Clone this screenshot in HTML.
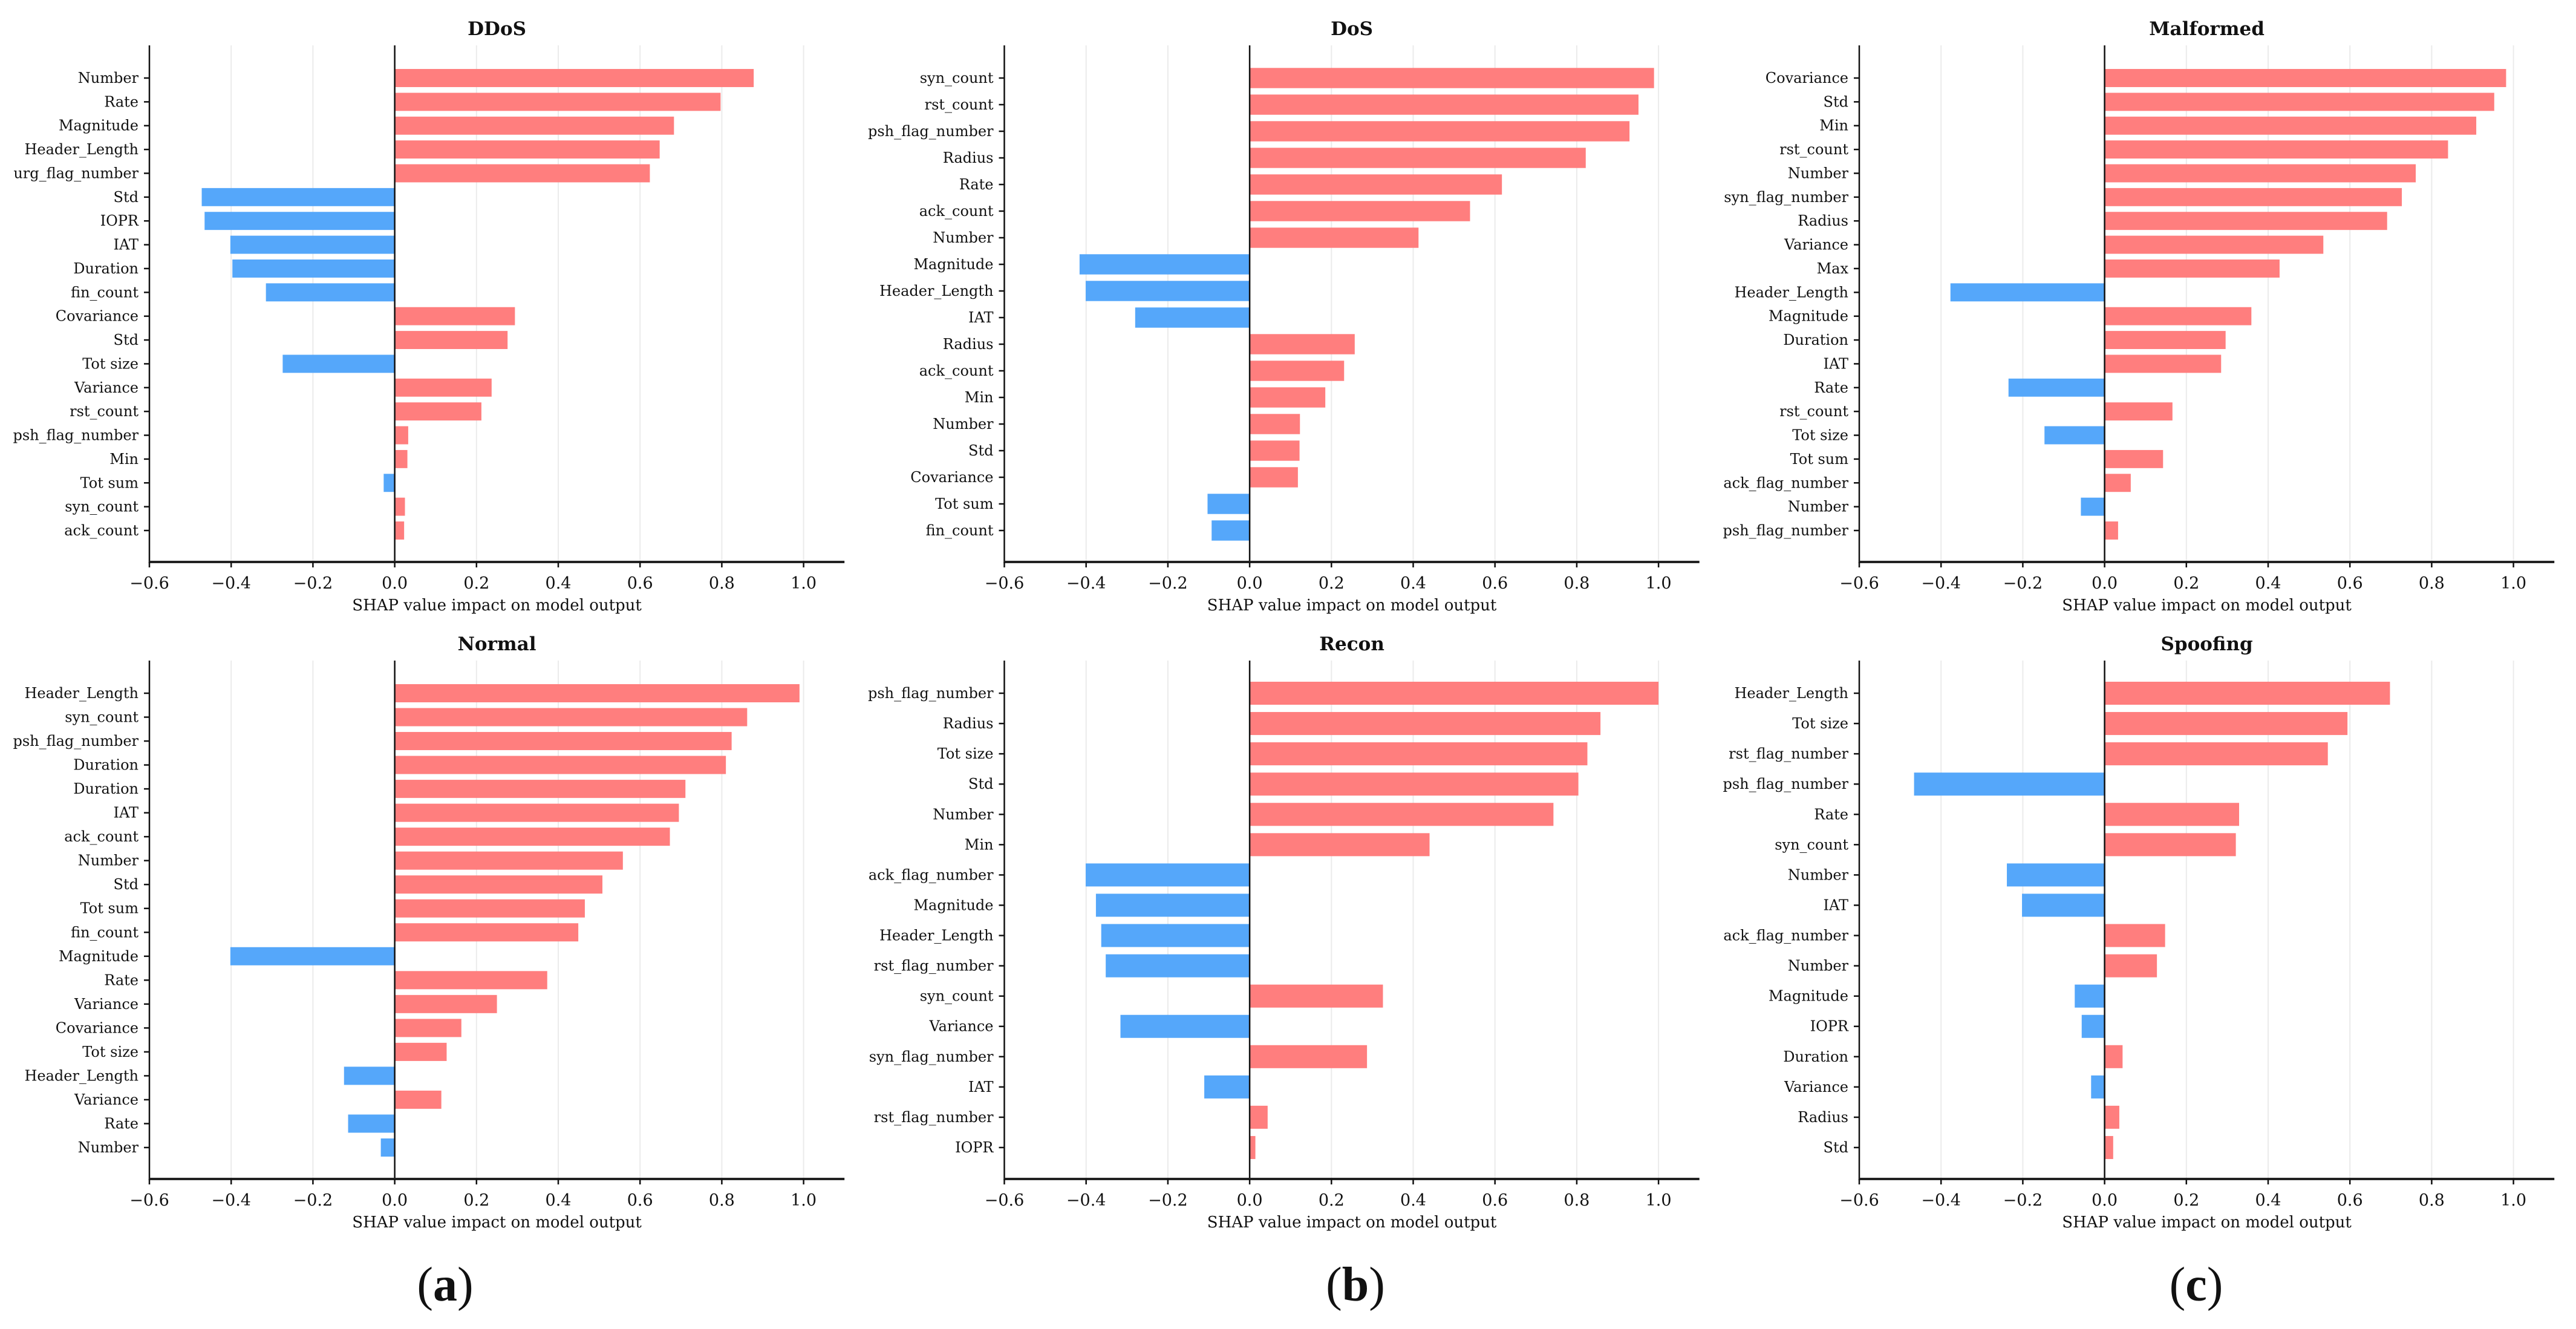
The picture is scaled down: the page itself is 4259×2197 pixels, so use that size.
<!DOCTYPE html>
<html><head><meta charset="utf-8"><style>
html,body{margin:0;padding:0;background:#fff;}
svg{display:block;}
text{font-family:"DejaVu Serif","Liberation Serif",serif;fill:#111;}
</style></head><body>
<svg id="fig" width="4259" height="2197" viewBox="0 0 4259 2197" xmlns="http://www.w3.org/2000/svg"></svg>
<script>
const titles = ["DDoS","DoS","Malformed","Normal","Recon","Spoofing"];
const ddosFeatures = ["Number","Rate","Magnitude","Header_Length","urg_flag_number","Std","IOPR","IAT","Duration","fin_count","Covariance","Std","Tot size","Variance","rst_count","psh_flag_number","Min","Tot sum","syn_count","ack_count"];
const ddosValues = [0.878,0.797,0.683,0.648,0.624,-0.472,-0.465,-0.402,-0.397,-0.315,0.294,0.276,-0.274,0.237,0.212,0.033,0.031,-0.027,0.025,0.023];
const dosFeatures = ["syn_count","rst_count","psh_flag_number","Radius","Rate","ack_count","Number","Magnitude","Header_Length","IAT","Radius","ack_count","Min","Number","Std","Covariance","Tot sum","fin_count"];
const dosValues = [0.989,0.951,0.929,0.822,0.617,0.539,0.413,-0.416,-0.401,-0.280,0.257,0.231,0.185,0.123,0.122,0.118,-0.103,-0.093];
const malFeatures = ["Covariance","Std","Min","rst_count","Number","syn_flag_number","Radius","Variance","Max","Header_Length","Magnitude","Duration","IAT","Rate","rst_count","Tot size","Tot sum","ack_flag_number","Number","psh_flag_number"];
const malValues = [0.982,0.953,0.909,0.840,0.761,0.727,0.691,0.535,0.428,-0.377,0.359,0.296,0.285,-0.235,0.166,-0.147,0.143,0.064,-0.058,0.033];
const normFeatures = ["Header_Length","syn_count","psh_flag_number","Duration","Duration","IAT","ack_count","Number","Std","Tot sum","fin_count","Magnitude","Rate","Variance","Covariance","Tot size","Header_Length","Variance","Rate","Number"];
const normValues = [0.990,0.862,0.824,0.810,0.711,0.695,0.673,0.558,0.508,0.465,0.449,-0.402,0.373,0.250,0.163,0.127,-0.124,0.114,-0.114,-0.034];
const reconFeatures = ["psh_flag_number","Radius","Tot size","Std","Number","Min","ack_flag_number","Magnitude","Header_Length","rst_flag_number","syn_count","Variance","syn_flag_number","IAT","rst_flag_number","IOPR"];
const reconValues = [1.0,0.858,0.826,0.804,0.743,0.440,-0.401,-0.376,-0.363,-0.352,0.326,-0.316,0.287,-0.111,0.044,0.014];
const spoofFeatures = ["Header_Length","Tot size","rst_flag_number","psh_flag_number","Rate","syn_count","Number","IAT","ack_flag_number","Number","Magnitude","IOPR","Duration","Variance","Radius","Std"];
const spoofValues = [0.698,0.594,0.546,-0.466,0.329,0.321,-0.239,-0.202,0.148,0.128,-0.073,-0.056,0.044,-0.033,0.036,0.021];
const xTicks = [-0.6,-0.4,-0.2,0.0,0.2,0.4,0.6,0.8,1.0];
const xTickLabels = ["\u22120.6","\u22120.4","\u22120.2","0.0","0.2","0.4","0.6","0.8","1.0"];
const panelLetters = ["(a)","(b)","(c)"];

const NS = "http://www.w3.org/2000/svg";
const svg = document.getElementById("fig");
function mk(tag, attrs, parent){const e=document.createElementNS(NS,tag);for(const k in attrs)e.setAttribute(k,attrs[k]);(parent||svg).appendChild(e);return e;}

const feats=[ddosFeatures,dosFeatures,malFeatures,normFeatures,reconFeatures,spoofFeatures];
const vals=[ddosValues,dosValues,malValues,normValues,reconValues,spoofValues];
const XMIN=-0.6, XMAX=1.1, PXU=676;
const slugs=["ddos","dos","malformed","normal","recon","spoofing"];

for(let p=0;p<6;p++){
  const col=p%3,row=Math.floor(p/3);
  const L=247+col*1413.5;
  const T=row?1092:75, B=row?1949:929;
  const xs=v=>L+(v-XMIN)*PXU;
  const g=mk("g",{});
  
  
  xTicks.forEach((t,i)=>{
    if(i===0)return;
    const gl=mk("line",{x1:xs(t),x2:xs(t),y1:T,y2:B,stroke:"#ebebeb","stroke-width":2},g);
    
    
  });
  const F=feats[p],V=vals[p],n=F.length;
  const y0=T+54,y1=B-52,step=(y1-y0)/(n-1),bh=step*0.76;
  for(let i=0;i<n;i++){
    const cy=y0+i*step,v=V[i];
    const r=mk("rect",{x:Math.min(xs(0),xs(v)),y:cy-bh/2,width:Math.abs(xs(v)-xs(0)),height:bh,fill:v>=0?"#ff7e7e":"#55a7fa"},g);
    
    
    const tk=mk("line",{x1:L-9,x2:L,y1:cy,y2:cy,stroke:"#111","stroke-width":2.5},g);
    
    
    const tl=mk("text",{x:L-18,y:cy+8,"text-anchor":"end","font-size":24},g);
    tl.textContent=F[i];
    
    
  }
  const zl=mk("line",{x1:xs(0),x2:xs(0),y1:T,y2:B,stroke:"#111","stroke-width":2.5},g);
  
  
  const ls=mk("line",{x1:L,x2:L,y1:T,y2:B+2,stroke:"#111","stroke-width":2.5},g);
  
  
  const bs=mk("line",{x1:L,x2:xs(XMAX),y1:B,y2:B,stroke:"#222","stroke-width":4},g);
  
  
  xTicks.forEach((t,i)=>{
    const tk=mk("line",{x1:xs(t),x2:xs(t),y1:B,y2:B+9,stroke:"#111","stroke-width":2.5},g);
    
    
    const tl=mk("text",{x:xs(t),y:B+44,"text-anchor":"middle","font-size":27},g);
    tl.textContent=xTickLabels[i];
    
    
  });
  const xl=mk("text",{x:(L+xs(XMAX))/2,y:B+80,"text-anchor":"middle","font-size":26},g);
  xl.textContent="SHAP value impact on model output";
  
  
  const tt=mk("text",{x:(L+xs(XMAX))/2,y:T-17,"text-anchor":"middle","font-size":31,"font-weight":"bold"},g);
  tt.textContent=titles[p];
  
  
}
const letterX=[736,2241,3631];
panelLetters.forEach((s,i)=>{
  const t=mk("text",{x:letterX[i],y:2150,"text-anchor":"middle","font-size":80,style:"font-family:'Liberation Serif',serif"});
  t.innerHTML='('+'<tspan font-weight="bold">'+s[1]+'</tspan>'+')';
  
  
});
</script>
</body></html>
